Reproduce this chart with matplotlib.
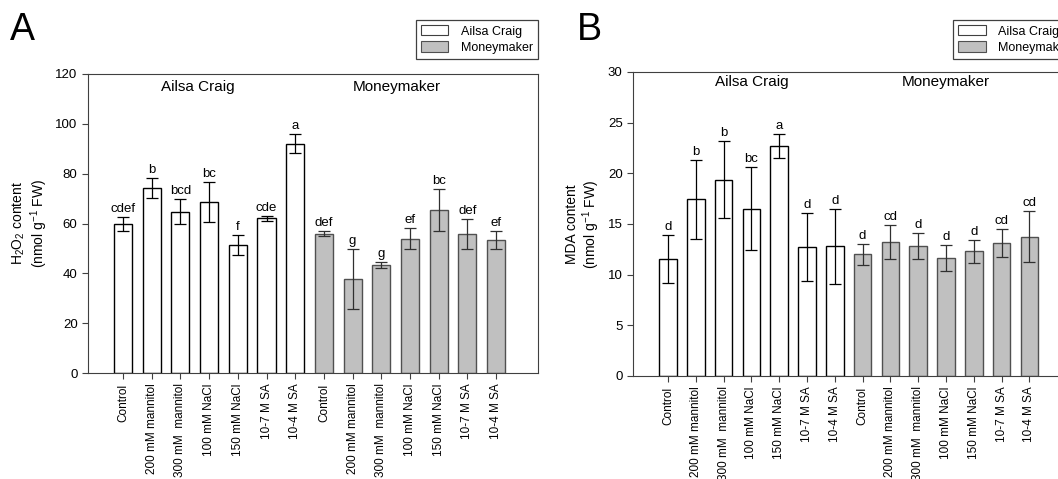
import matplotlib.pyplot as plt
from matplotlib.patches import Patch

plt.rcParams['font.family'] = ['Liberation Sans', 'DejaVu Sans']
plt.rcParams['mathtext.default'] = 'regular'

# nombres de tratamientos (7 por cultivar)
tratamientos = ['Control', '200 mM mannitol', '300 mM  mannitol', '100 mM NaCl',
                '150 mM NaCl', '10-7 M SA', '10-4 M SA']
etiquetas_x = tratamientos + tratamientos

# panel A: H2O2
h2o2_ac = [59.8, 74.2, 64.7, 68.6, 51.4, 62.2, 92.1]
h2o2_ac_err = [3.0, 4.0, 5.0, 8.0, 4.0, 1.0, 4.0]
h2o2_mm = [55.8, 37.7, 43.4, 53.8, 65.5, 55.8, 53.4]
h2o2_mm_err = [1.0, 12.0, 1.3, 4.2, 8.4, 6.0, 3.5]
letras_a = ['cdef', 'b', 'bcd', 'bc', 'f', 'cde', 'a',
            'def', 'g', 'g', 'ef', 'bc', 'def', 'ef']

# panel B: MDA
mda_ac = [11.55, 17.45, 19.35, 16.5, 22.7, 12.75, 12.8]
mda_ac_err = [2.4, 3.9, 3.8, 4.1, 1.2, 3.35, 3.7]
mda_mm = [12.0, 13.2, 12.8, 11.65, 12.3, 13.15, 13.75]
mda_mm_err = [1.0, 1.7, 1.3, 1.3, 1.1, 1.4, 2.5]
letras_b = ['d', 'b', 'b', 'bc', 'a', 'd', 'd',
            'd', 'cd', 'd', 'd', 'd', 'cd', 'cd']

gris = '#c0c0c0'
borde_gris = '#505050'


def panel(ax, ac, ac_err, mm, mm_err, letras, ymax, paso, ylabel, xlim, pos_grupos, y_grupos, letra_off):
  x_ac = list(range(7))
  x_mm = list(range(7, 14))
  ax.bar(x_ac, ac, width=0.63, color='white', edgecolor='black', linewidth=1, zorder=2)
  ax.bar(x_mm, mm, width=0.63, color=gris, edgecolor=borde_gris, linewidth=1, zorder=2)
  ax.errorbar(x_ac, ac, yerr=ac_err, fmt='none', ecolor='black', elinewidth=0.9, capsize=4, capthick=0.9, zorder=3)
  ax.errorbar(x_mm, mm, yerr=mm_err, fmt='none', ecolor='#303030', elinewidth=0.9, capsize=4, capthick=0.9, zorder=3)
  tops = [v + e for v, e in zip(ac + mm, ac_err + mm_err)]
  for i, (t, l) in enumerate(zip(tops, letras)):
    ax.text(i, t + letra_off, l, ha='center', va='bottom', fontsize=9.5)
  ax.set_ylim(0, ymax)
  ax.set_yticks(range(0, ymax + 1, paso))
  ax.set_xlim(*xlim)
  ax.set_xticks(range(14))
  ax.set_xticklabels(etiquetas_x, rotation=90, fontsize=8.5)
  ax.tick_params(axis='y', labelsize=9.5, direction='out', length=4, color='#404040')
  ax.tick_params(axis='x', direction='out', length=4, color='#404040')
  for s in ax.spines.values():
    s.set_color('#404040')
  ax.set_ylabel(ylabel, fontsize=10, linespacing=1.1, labelpad=4)
  ax.text(pos_grupos[0], y_grupos, 'Ailsa Craig', ha='center', va='center', fontsize=11)
  ax.text(pos_grupos[1], y_grupos, 'Moneymaker', ha='center', va='center', fontsize=11)


fig = plt.figure(figsize=(10.58, 4.79), dpi=100)

ax1 = fig.add_axes([88 / 1058, 106 / 479, 450 / 1058, 299 / 479])
panel(ax1, h2o2_ac, h2o2_ac_err, h2o2_mm, h2o2_mm_err, letras_a, 120, 20,
      'H$_2$O$_2$ content\n(nmol g$^{-1}$ FW)', (-1.22, 14.46), (2.6, 9.55), 114.8, 0.8)

ax2 = fig.add_axes([633 / 1058, 103 / 479, 442 / 1058, 304 / 479])
panel(ax2, mda_ac, mda_ac_err, mda_mm, mda_mm_err, letras_b, 30, 5,
      'MDA content\n(nmol g$^{-1}$ FW)', (-1.26, 14.64), (3, 10), 29.0, 0.2)

fig.text(10 / 1058, 1 - 12 / 479, 'A', fontsize=27, va='top', ha='left')
fig.text(577 / 1058, 1 - 12 / 479, 'B', fontsize=27, va='top', ha='left')

handles = [Patch(facecolor='white', edgecolor='#404040', linewidth=0.8),
           Patch(facecolor=gris, edgecolor=borde_gris, linewidth=0.8)]
nombres = ['Ailsa Craig', 'Moneymaker']
for anchor, loc in [((538 / 1058, 1 - 20 / 479), 'upper right'), ((953 / 1058, 1 - 20 / 479), 'upper left')]:
  leg = fig.legend(handles, nombres, loc=loc, bbox_to_anchor=anchor, fontsize=9,
                   fancybox=False, framealpha=1, edgecolor='#404040', handlelength=2.2,
                   handleheight=0.9, borderpad=0.4, labelspacing=0.3, handletextpad=1.0,
                   borderaxespad=0)
  leg.get_frame().set_linewidth(0.9)

fig.savefig('out.png', dpi=100)
